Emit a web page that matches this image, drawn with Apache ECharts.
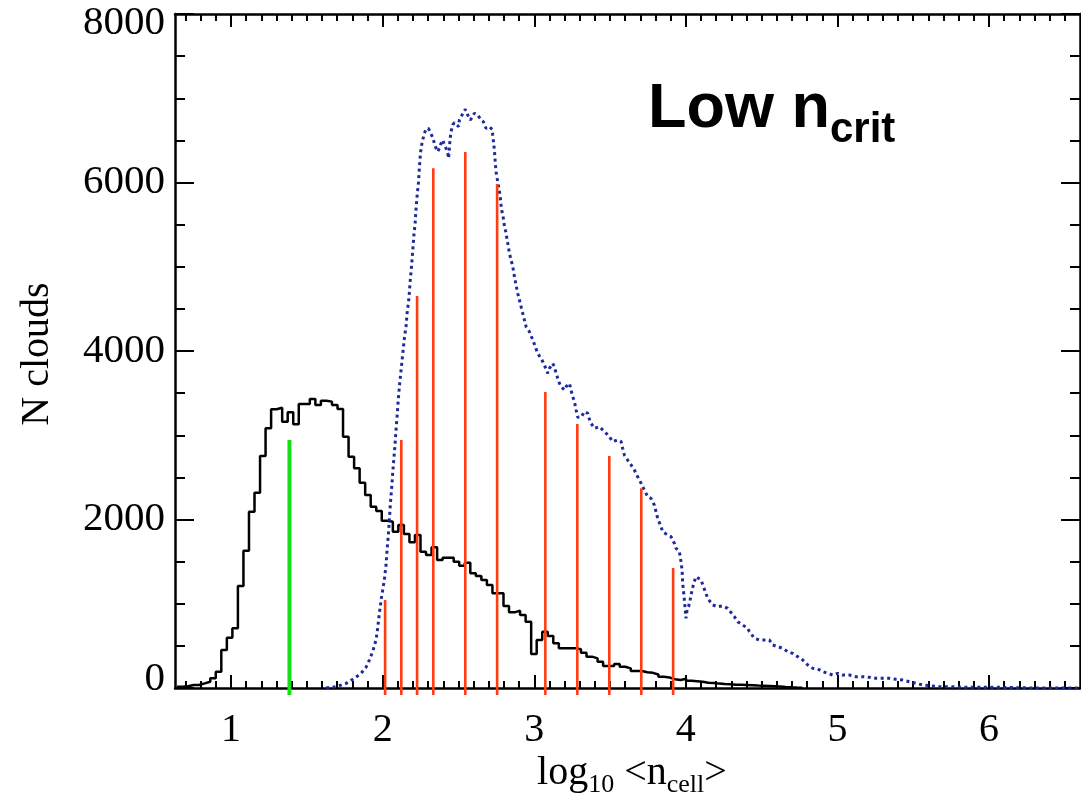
<!DOCTYPE html>
<html>
<head>
<meta charset="utf-8">
<title>Low n_crit</title>
<script src="https://cdn.jsdelivr.net/npm/echarts@6/dist/echarts.min.js"></script>
<style>
  html, body { margin: 0; padding: 0; background: #fff; }
  #chart { width: 1081px; height: 799px; }
</style>
</head>
<body>
<div id="chart"></div>
<script>
// black histogram: clouds per bin, equal-width bins starting at binStart
const binStart = 0.6435;
const binWidth = 0.0365;
const allClouds = [
  15, 20, 36, 36, 55, 75, 115, 194, 451, 597, 708,
  1211, 1630, 2093, 2318, 2754, 3082, 3308, 3327, 3161, 3272,
  3130, 3371, 3371, 3430, 3359, 3410, 3399, 3359, 3311, 2983,
  2746, 2607, 2437, 2291, 2152, 2101, 1986, 1974, 1855, 1935,
  1828, 1729, 1816, 1618, 1579, 1670, 1519, 1547, 1547, 1500,
  1452, 1488, 1361, 1329, 1282, 1223, 1124, 1124, 973, 898,
  918, 866, 787, 404, 570, 668, 617, 530, 471, 471,
  471, 459, 419, 372, 352, 312, 261, 261, 285, 253,
  233, 202, 202, 186, 180, 160, 134, 125, 105, 95,
  110, 85, 80, 75, 62, 60, 52, 47, 45, 40,
  38, 36, 33, 30, 28, 25, 22, 18, 12, 8, 5, 3
];

// blue dotted curve
const critX = [
  1.627, 1.693, 1.759, 1.813, 1.857, 1.890, 1.912, 1.934, 1.956, 1.967,
  1.978, 1.993, 2.011, 2.022, 2.029, 2.038, 2.044, 2.051, 2.060, 2.066,
  2.073, 2.082, 2.088, 2.095, 2.101, 2.110, 2.143, 2.154, 2.161, 2.172,
  2.183, 2.191, 2.198, 2.205, 2.214, 2.220, 2.227, 2.236, 2.242, 2.249,
  2.255, 2.264, 2.275, 2.286, 2.301, 2.313, 2.326, 2.332, 2.341, 2.352,
  2.363, 2.374, 2.385, 2.396, 2.407, 2.418, 2.429, 2.435, 2.445, 2.451,
  2.462, 2.473, 2.484, 2.501, 2.506, 2.517, 2.528, 2.545, 2.561, 2.579,
  2.605, 2.627, 2.649, 2.664, 2.682, 2.704, 2.722, 2.726, 2.732, 2.737,
  2.743, 2.748, 2.755, 2.765, 2.774, 2.781, 2.787, 2.796, 2.803, 2.814,
  2.821, 2.829, 2.836, 2.847, 2.858, 2.873, 2.891, 2.913, 2.935, 2.946,
  2.968, 2.979, 2.990, 3.007, 3.022, 3.045, 3.062, 3.089, 3.100, 3.121,
  3.133, 3.144, 3.166, 3.177, 3.199, 3.210, 3.232, 3.243, 3.250, 3.265,
  3.276, 3.287, 3.309, 3.331, 3.353, 3.368, 3.397, 3.430, 3.452, 3.474,
  3.495, 3.517, 3.550, 3.573, 3.583, 3.594, 3.616, 3.639, 3.660, 3.682,
  3.705, 3.726, 3.748, 3.770, 3.792, 3.803, 3.814, 3.836, 3.847, 3.880,
  3.902, 3.924, 3.935, 3.957, 3.968, 3.975, 3.979, 3.986, 3.994, 4.001,
  4.008, 4.018, 4.028, 4.041, 4.052, 4.067, 4.080, 4.100, 4.122, 4.144,
  4.177, 4.210, 4.243, 4.276, 4.298, 4.320, 4.342, 4.375, 4.408, 4.419,
  4.452, 4.485, 4.518, 4.551, 4.573, 4.606, 4.639, 4.672, 4.705, 4.738,
  4.771, 4.804, 4.837, 4.870, 4.903, 4.936, 4.968, 5.001, 5.034, 5.078,
  5.122, 5.166, 5.210, 5.254, 5.298, 5.342, 5.386, 5.430, 5.474, 5.518,
  5.562, 5.606, 5.672, 5.738, 5.870, 6.068, 6.290, 6.600
];
const critY = [
  0, 16, 55, 115, 174, 245, 332, 431, 570, 708,
  886, 1084, 1282, 1460, 1638, 1836, 1994, 2192, 2390, 2548,
  2706, 2904, 3062, 3221, 3379, 3577, 4150, 4289, 4447, 4605,
  4862, 5021, 5179, 5357, 5515, 5686, 5840, 5998, 6168, 6346,
  6425, 6504, 6584, 6631, 6643, 6603, 6591, 6524, 6465, 6405,
  6366, 6405, 6465, 6504, 6445, 6405, 6346, 6287, 6524, 6603,
  6683, 6710, 6703, 6663, 6742, 6781, 6801, 6869, 6801, 6742,
  6821, 6801, 6742, 6722, 6643, 6663, 6631, 6564, 6465, 6386,
  6228, 6128, 6050, 5950, 5852, 5733, 5654, 5575, 5484, 5397,
  5318, 5238, 5160, 5080, 5001, 4843, 4685, 4526, 4368, 4289,
  4229, 4210, 4131, 4051, 3972, 3913, 3853, 3735, 3794, 3853,
  3814, 3735, 3616, 3577, 3537, 3577, 3616, 3537, 3478, 3398,
  3300, 3213, 3213, 3280, 3260, 3161, 3082, 3102, 3062, 3023,
  2983, 2924, 2944, 2924, 2845, 2766, 2706, 2647, 2588, 2508,
  2429, 2350, 2271, 2251, 2172, 2093, 2014, 1915, 1855, 1816,
  1796, 1717, 1658, 1618, 1500, 1401, 1243, 1124, 965, 827,
  926, 965, 1045, 1163, 1243, 1321, 1341, 1282, 1173, 1064,
  985, 965, 975, 946, 896, 847, 787, 748, 708, 669,
  590, 570, 570, 570, 510, 491, 471, 431, 411, 372,
  332, 273, 233, 226, 194, 174, 154, 174, 154, 154,
  134, 134, 127, 115, 115, 115, 103, 95, 75, 55,
  36, 28, 16, 16, 8, 8, 0, 0
];

// vertical markers
const redX = [2.016, 2.123, 2.227, 2.334, 2.545, 2.755, 3.073, 3.284, 3.495, 3.706, 3.916];
const redY = [1045, 2944, 4653, 6169, 6362, 5982, 3513, 3134, 2754, 2370, 1424];
const greenX = [1.385];
const greenY = [2944];

// axis ticks
const xMajor = [1, 2, 3, 4, 5, 6];
const xMinor = [];
for (let t = 7; t <= 65; t++) if (t % 10) xMinor.push(t / 10);

const histData = allClouds.map((v, k) => [binStart + k * binWidth, v]);
histData.push([binStart + allClouds.length * binWidth, allClouds[allClouds.length - 1]]);
const critData = critX.map((x, i) => [x, critY[i]]);
const redData = redX.map((x, i) => [x, redY[i]]);
const greenData = greenX.map((x, i) => [x, greenY[i]]);

const serif = 'Liberation Serif';
const xMin = 0.63, xMax = 6.6;

function markerSeries(data, color, width) {
  return {
    type: 'custom',
    clip: false,
    data: data,
    encode: { x: 0, y: 1 },
    renderItem: function (params, api) {
      const top = api.coord([api.value(0), api.value(1)]);
      const bot = api.coord([api.value(0), 0]);
      return {
        type: 'line',
        shape: { x1: top[0], y1: bot[1] + 7, x2: top[0], y2: top[1] },
        style: { stroke: color, lineWidth: width }
      };
    }
  };
}

function xAxisDef(position, ticks, len, showLine, showLabel) {
  return {
    type: 'value',
    position: position,
    min: xMin,
    max: xMax,
    axisLine: { show: showLine, onZero: false, lineStyle: { color: '#000', width: 2.5 } },
    axisTick: { show: true, inside: true, length: len, customValues: ticks, lineStyle: { color: '#000', width: 2 } },
    axisLabel: {
      show: showLabel,
      customValues: xMajor,
      margin: 22,
      color: '#000',
      fontFamily: serif,
      fontSize: 40
    },
    splitLine: { show: false }
  };
}

function yAxisDef(position, showLabel) {
  return {
    type: 'value',
    position: position,
    min: 0,
    max: 8000,
    interval: 2000,
    axisLine: { show: true, onZero: false, lineStyle: { color: '#000', width: 2.5 } },
    axisTick: { show: true, inside: true, length: 19, lineStyle: { color: '#000', width: 2 } },
    minorTick: { show: true, splitNumber: 4, length: 10, lineStyle: { color: '#000', width: 2 } },
    axisLabel: {
      show: showLabel,
      margin: 10,
      color: '#000',
      fontFamily: serif,
      fontSize: 41,
      formatter: function (v) {
        if (v === 0) return '{lo|0}';
        if (v === 8000) return '{hi|8000}';
        return String(v);
      },
      rich: {
        lo: { fontFamily: serif, fontSize: 41, color: '#000', padding: [0, 0, 18, 0] },
        hi: { fontFamily: serif, fontSize: 41, color: '#000', padding: [18, 0, 0, 0] }
      }
    },
    splitLine: { show: false }
  };
}

const chart = echarts.init(document.getElementById('chart'));

chart.setOption({
  animation: false,
  backgroundColor: '#fff',
  grid: { left: 175, right: 1, top: 14, bottom: 111, containLabel: false },
  xAxis: [
    xAxisDef('bottom', xMajor, 13, true, true),
    xAxisDef('bottom', xMinor, 7, false, false),
    xAxisDef('top', xMajor, 13, true, false),
    xAxisDef('top', xMinor, 7, false, false)
  ],
  yAxis: [yAxisDef('left', true), yAxisDef('right', false)],
  graphic: [
    {
      type: 'text',
      x: 37,
      y: 354,
      rotation: Math.PI / 2,
      style: {
        text: 'N clouds',
        fill: '#000',
        font: '40px "Liberation Serif"',
        align: 'center',
        verticalAlign: 'middle'
      }
    },
    {
      type: 'text',
      x: 632,
      y: 753,
      style: {
        text: '{a|log}{s|10}{a| <n}{s|cell}{a|>}',
        align: 'center',
        verticalAlign: 'top',
        rich: {
          a: { fontFamily: serif, fontSize: 40, lineHeight: 40, fill: '#000' },
          s: { fontFamily: serif, fontSize: 26, lineHeight: 26, fill: '#000', padding: [19, 0, 0, 0], verticalAlign: 'top' }
        }
      }
    },
    {
      type: 'text',
      x: 648,
      y: 78,
      style: {
        text: '{a|Low n}{s|crit}',
        align: 'left',
        verticalAlign: 'top',
        rich: {
          a: { fontFamily: 'Liberation Sans', fontWeight: 'bold', fontSize: 63, lineHeight: 63, fill: '#000' },
          s: { fontFamily: 'Liberation Sans', fontWeight: 'bold', fontSize: 42, lineHeight: 42, fill: '#000', padding: [31, 0, 0, 0], verticalAlign: 'top' }
        }
      }
    }
  ],
  series: [
    {
      name: 'all clouds',
      type: 'line',
      step: 'end',
      data: histData,
      showSymbol: false,
      symbol: 'none',
      lineStyle: { color: '#000', width: 2.5 },
      z: 2
    },
    {
      name: 'low ncrit',
      type: 'line',
      data: critData,
      showSymbol: false,
      symbol: 'none',
      lineStyle: { color: '#1c2a9c', width: 3, type: [3, 3.5] },
      z: 3
    },
    Object.assign(markerSeries(redData, '#ff3d12', 2.6), { z: 4 }),
    Object.assign(markerSeries(greenData, '#14e014', 4), { z: 4 })
  ]
});
</script>
</body>
</html>
